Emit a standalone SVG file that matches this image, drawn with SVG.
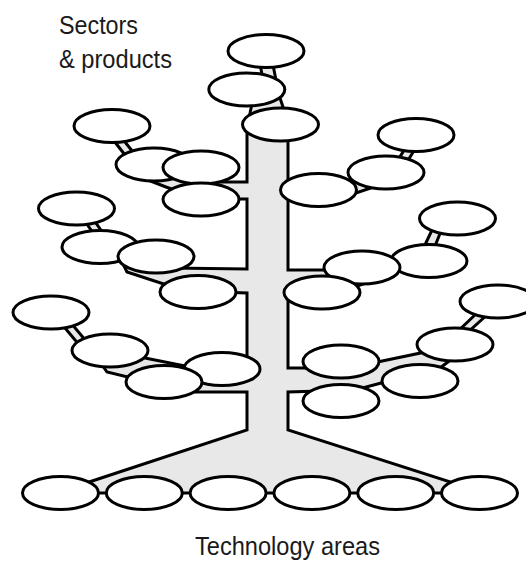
<svg xmlns="http://www.w3.org/2000/svg" width="526" height="563" viewBox="0 0 526 563">
  <style>
    .tree { fill: #e8e8e8; stroke: #000; stroke-width: 3; stroke-linejoin: miter; }
    .pod { fill: #fff; stroke: #000; stroke-width: 3; }
    .label { font-family: "Liberation Sans", Arial, Helvetica, sans-serif; font-size: 26px; fill: #1a1a1a; }
  </style>

  <!-- trunk, branches and root spread drawn as one shaded outline -->
  <g id="connectors">
    <path class="tree" d="M271,55 L276,80 L279,95 L284,110 L288,125 L288,183
      L345,182 L370,170 L398,160 L406,147 L415,149 L407,162 L380,185 L350,195 L288,199
      L288,270 L330,270 L395,262 L423,249 L432,230 L441,231 L433,251 L395,272 L360,285 L340,292 L300,300 L288,300
      L288,368 L305,368 L350,367.7 L430,351 L457,332 L478,312 L488,314 L466,334 L470,345 L440,368 L400,378 L355,390 L288,392
      L288,430 L460,485 L460,493 L60,493 L80,485 L247,430
      L247,392 L195,392 L140,380 L107,372 L100,362 L80,346 L60,322 L66,317 L86,341 L145,358 L185,366 L247,365
      L247,293 L185,291 L127,272 L120,258 L96,237 L84,220 L91,216 L103,233 L170,268 L247,269
      L247,199 L200,199 L166,187 L140,177 L125,155 L114,141 L121,137 L133,152 L180,175 L215,182 L247,182
      L247,125 L250,113 L252,104 L256,88 L263,80 L259,58 Z"/>
  </g>

  <!-- crown -->
  <g id="top-1"><ellipse class="pod" cx="266" cy="51" rx="38" ry="16.5"/></g>
  <g id="top-2"><ellipse class="pod" cx="246.8" cy="89.5" rx="38" ry="16.5"/></g>
  <g id="top-3"><ellipse class="pod" cx="280.5" cy="124.5" rx="38" ry="16.5"/></g>

  <!-- left branches -->
  <g id="left-1a"><ellipse class="pod" cx="112" cy="126" rx="38" ry="16.5"/></g>
  <g id="left-1b"><ellipse class="pod" cx="154" cy="164.5" rx="38" ry="16.5"/></g>
  <g id="left-1c"><ellipse class="pod" cx="201" cy="167.5" rx="38" ry="16.5"/></g>
  <g id="left-1d"><ellipse class="pod" cx="201" cy="199.5" rx="38" ry="16.5"/></g>

  <g id="left-2a"><ellipse class="pod" cx="76.5" cy="208.5" rx="38" ry="16.5"/></g>
  <g id="left-2b"><ellipse class="pod" cx="100" cy="247" rx="38" ry="16.5"/></g>
  <g id="left-2c"><ellipse class="pod" cx="156" cy="256.5" rx="38" ry="16.5"/></g>
  <g id="left-2d"><ellipse class="pod" cx="198" cy="292" rx="38" ry="16.5"/></g>

  <g id="left-3a"><ellipse class="pod" cx="51" cy="312.5" rx="38" ry="16.5"/></g>
  <g id="left-3b"><ellipse class="pod" cx="110" cy="350.5" rx="38" ry="16.5"/></g>
  <g id="left-3c"><ellipse class="pod" cx="222" cy="369" rx="38" ry="16.5"/></g>
  <g id="left-3d"><ellipse class="pod" cx="164" cy="382" rx="38" ry="16.5"/></g>

  <!-- right branches -->
  <g id="right-1a"><ellipse class="pod" cx="416" cy="135" rx="38" ry="16.5"/></g>
  <g id="right-1b"><ellipse class="pod" cx="386" cy="172.5" rx="38" ry="16.5"/></g>
  <g id="right-1c"><ellipse class="pod" cx="318.5" cy="190" rx="38" ry="16.5"/></g>

  <g id="right-2a"><ellipse class="pod" cx="457.5" cy="218.5" rx="38" ry="16.5"/></g>
  <g id="right-2b"><ellipse class="pod" cx="429" cy="261" rx="38" ry="16.5"/></g>
  <g id="right-2c"><ellipse class="pod" cx="362" cy="267.5" rx="38" ry="16.5"/></g>
  <g id="right-2d"><ellipse class="pod" cx="322" cy="292.5" rx="38" ry="16.5"/></g>

  <g id="right-3a"><ellipse class="pod" cx="498" cy="301.5" rx="38" ry="16.5"/></g>
  <g id="right-3b"><ellipse class="pod" cx="455" cy="344.5" rx="38" ry="16.5"/></g>
  <g id="right-3c"><ellipse class="pod" cx="341" cy="361.5" rx="38" ry="16.5"/></g>
  <g id="right-3d"><ellipse class="pod" cx="420" cy="381" rx="38" ry="16.5"/></g>
  <g id="right-3e"><ellipse class="pod" cx="341" cy="401" rx="38" ry="16.5"/></g>

  <!-- roots -->
  <g id="root-1"><ellipse class="pod" cx="60.5" cy="493" rx="38" ry="16.5"/></g>
  <g id="root-2"><ellipse class="pod" cx="144.3" cy="493" rx="38" ry="16.5"/></g>
  <g id="root-3"><ellipse class="pod" cx="228.1" cy="493" rx="38" ry="16.5"/></g>
  <g id="root-4"><ellipse class="pod" cx="311.9" cy="493" rx="38" ry="16.5"/></g>
  <g id="root-5"><ellipse class="pod" cx="395.7" cy="493" rx="38" ry="16.5"/></g>
  <g id="root-6"><ellipse class="pod" cx="479.5" cy="493" rx="38" ry="16.5"/></g>

  <!-- captions -->
  <g id="captions">
    <text class="label" x="59" y="34" textLength="79" lengthAdjust="spacingAndGlyphs">Sectors</text>
    <text class="label" x="59" y="68" textLength="113" lengthAdjust="spacingAndGlyphs">&amp; products</text>
    <text class="label" x="195" y="555" textLength="185" lengthAdjust="spacingAndGlyphs">Technology areas</text>
  </g>
</svg>
